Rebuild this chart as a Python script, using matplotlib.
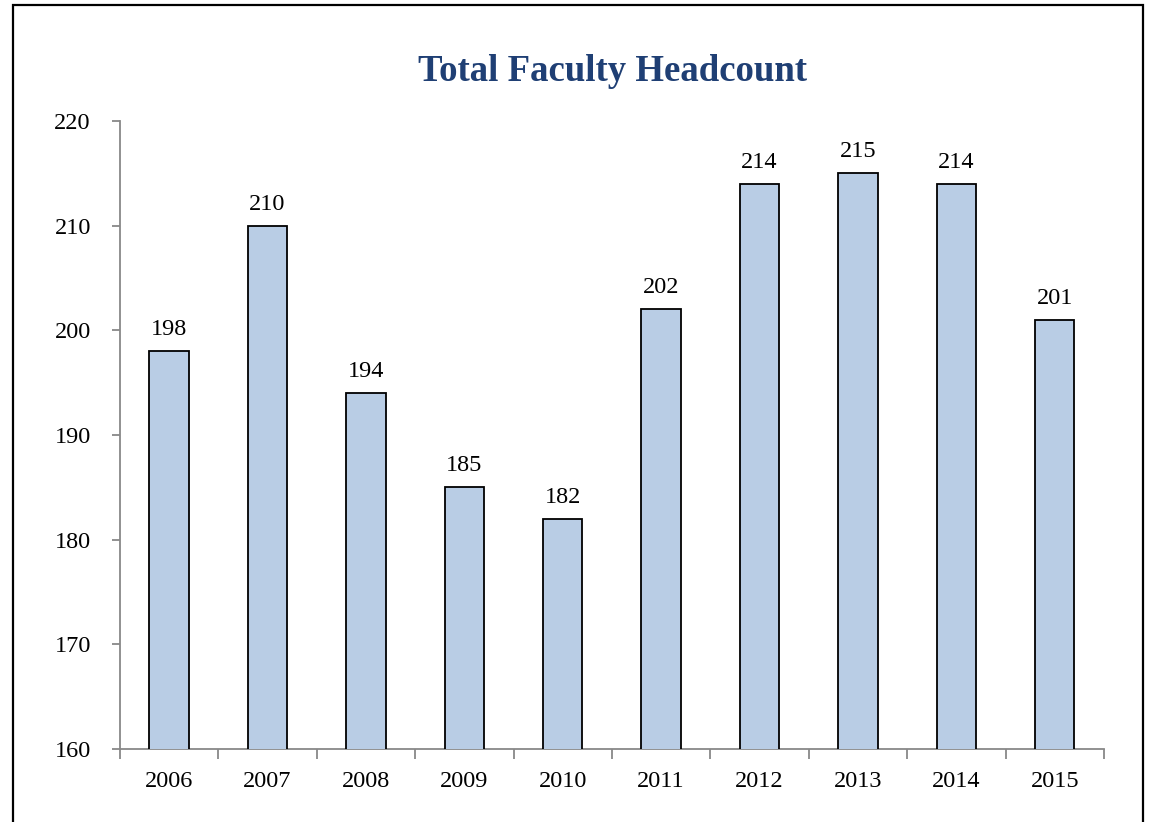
import matplotlib.pyplot as plt
from matplotlib.patches import Rectangle
import numpy as np

years = ['2006', '2007', '2008', '2009', '2010', '2011', '2012', '2013', '2014', '2015']
headcount = [198, 210, 194, 185, 182, 202, 214, 215, 214, 201]

plt.rcParams['font.family'] = ['Liberation Serif', 'DejaVu Serif']

fig = plt.figure(figsize=(11.49, 8.22), dpi=100)
ax = fig.add_axes([0.1044, 0.0888, 0.8564, 0.764])

x = np.arange(len(years))
bars = ax.bar(x, headcount, width=0.4, bottom=0, color='#B9CDE5',
              edgecolor='black', linewidth=1.3, zorder=3)

ax.set_ylim(160, 220)
ax.set_xlim(-0.5, len(years) - 0.5)
ax.set_yticks(range(160, 221, 10))
ax.tick_params(axis='y', labelsize=17.5, color='#888888', length=6, width=1.3, pad=15)

# labels at bar centres, tick marks between categories
ax.set_xticks(x)
ax.set_xticklabels(years)
ax.set_xticks(np.arange(-0.5, len(years), 1), minor=True)
ax.tick_params(axis='x', which='major', length=0, labelsize=17.5, pad=16)
ax.tick_params(axis='x', which='minor', length=7, width=1.3, color='#888888')

for side in ['top', 'right']:
    ax.spines[side].set_visible(False)
for side in ['left', 'bottom']:
    ax.spines[side].set_color('#888888')
    ax.spines[side].set_linewidth(1.3)

for xi, v in zip(x, headcount):
    ax.annotate(str(v), (xi, v), xytext=(0, 8), textcoords='offset points',
                ha='center', va='bottom', fontsize=17.5)

fig.text(0.533, 0.913, 'Total Faculty Headcount', ha='center', va='center',
         fontsize=26.5, fontweight='bold', color='#1F3F74')

# outer frame around the chart (bottom edge runs off the image)
fig.patches.append(Rectangle((13 / 1149, -0.05), 1130 / 1149, 1.05 - 5 / 822,
                             transform=fig.transFigure, fill=False,
                             edgecolor='black', linewidth=1.6))

fig.savefig('out.png', dpi=100)
